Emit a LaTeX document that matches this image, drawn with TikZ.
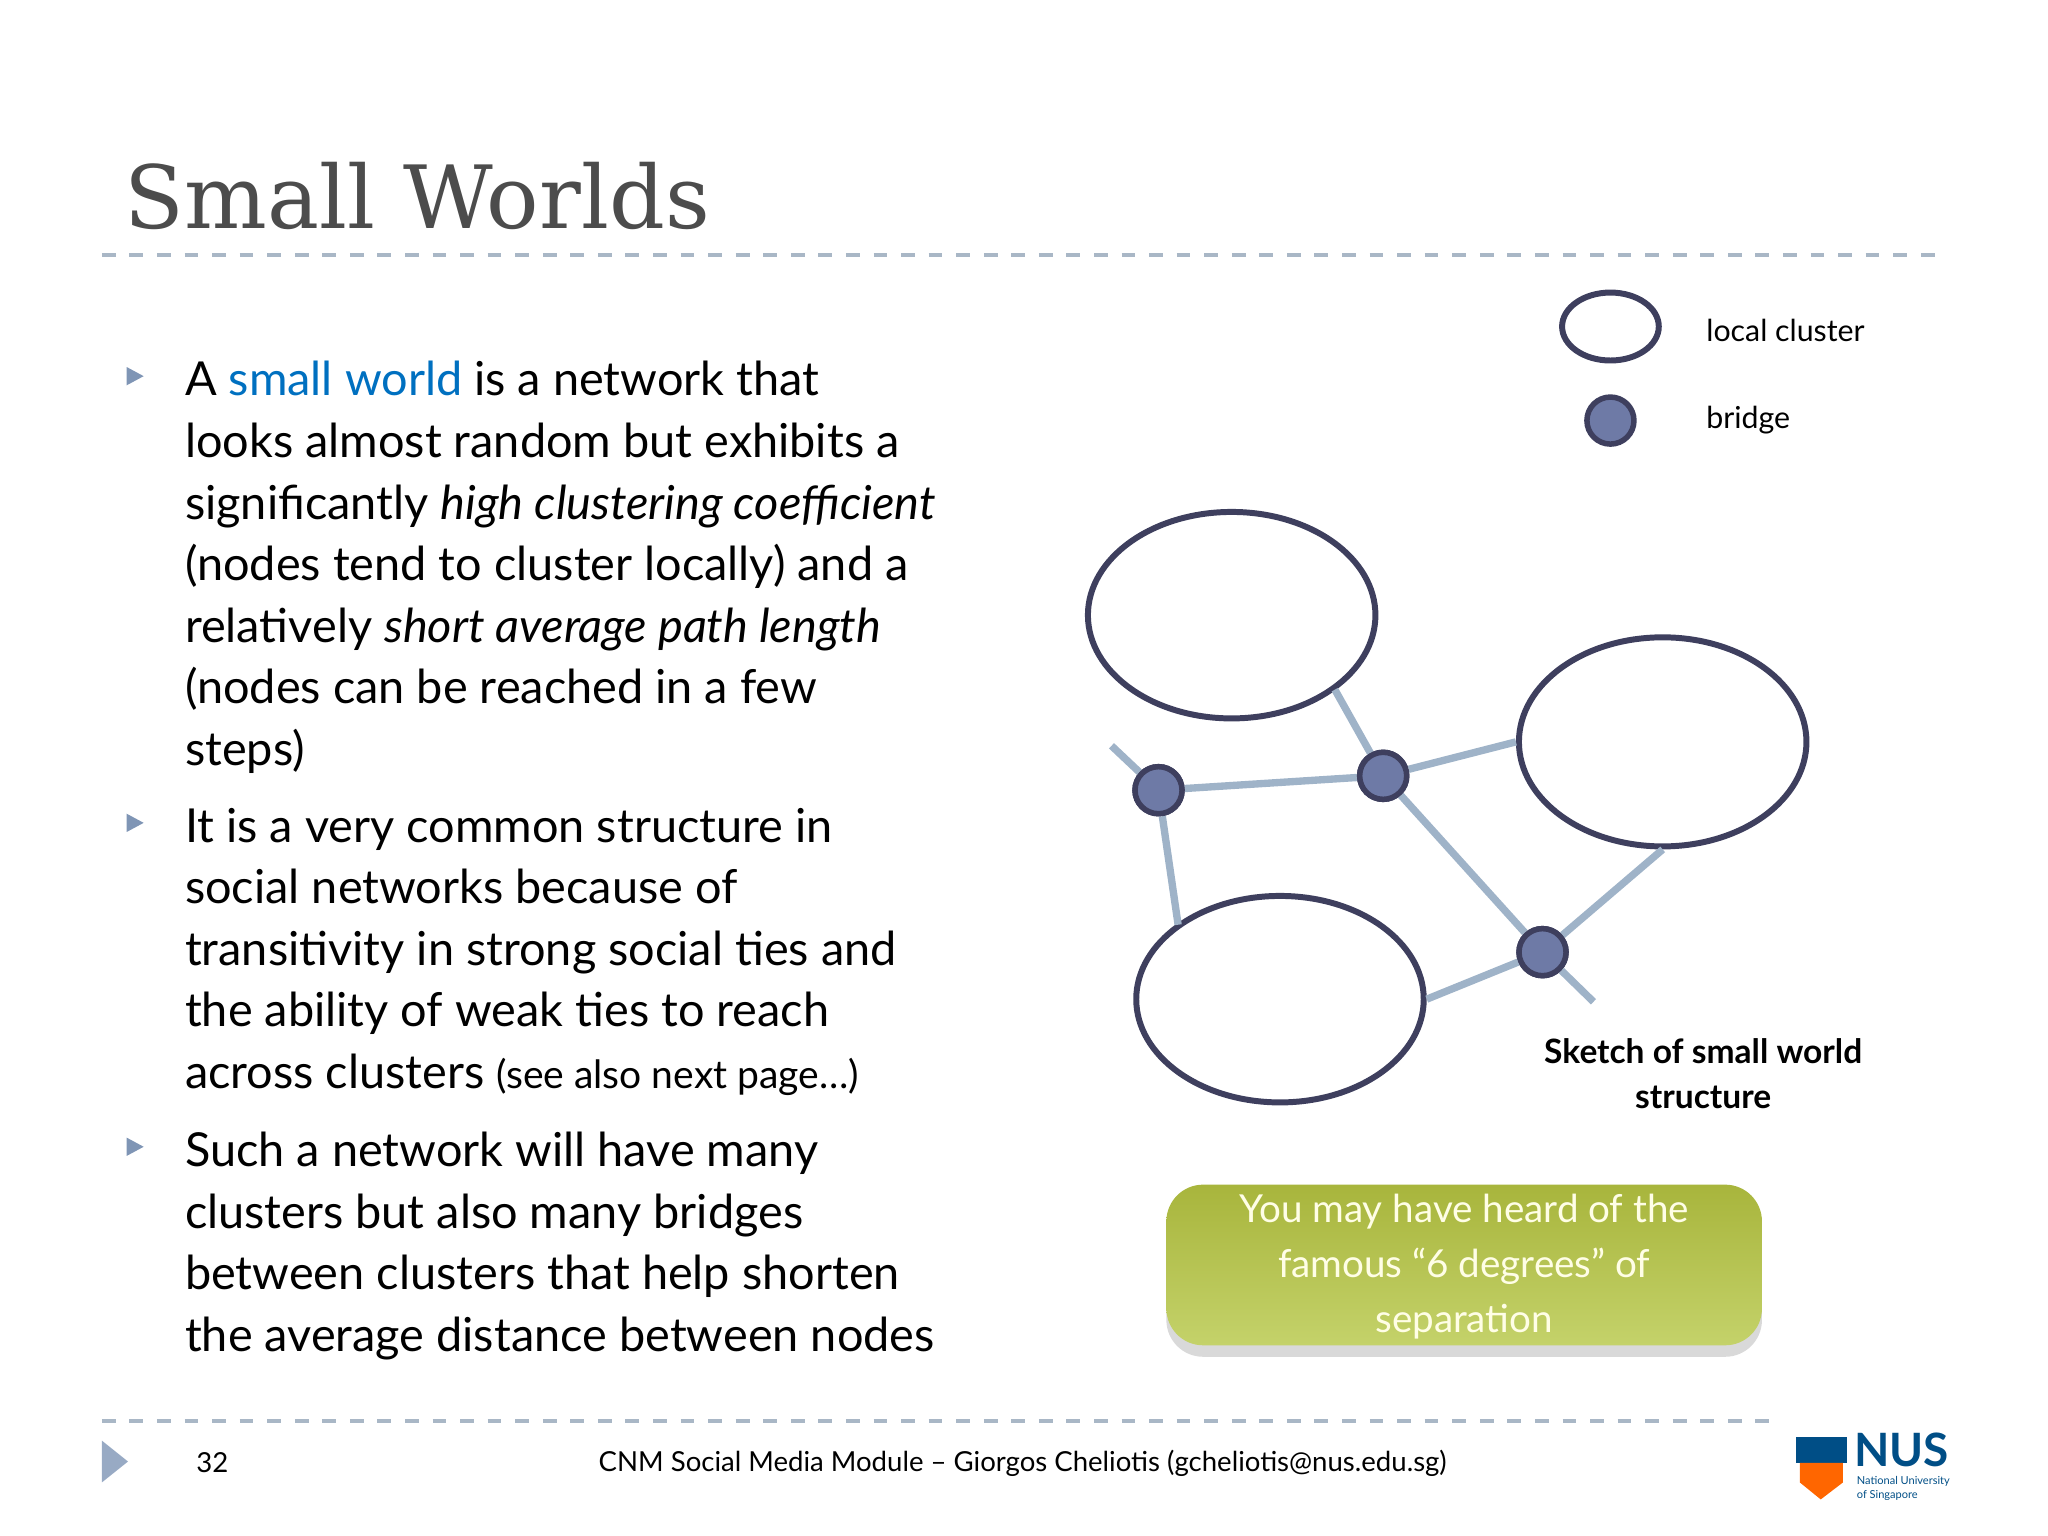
\documentclass[tikz,border=0pt]{standalone}
\usepackage{fontspec}
\setmainfont{Lato}
\newfontfamily\titlefont{DejaVu Serif}
\usetikzlibrary{shadows,shapes.geometric}
\definecolor{nodefill}{HTML}{6E7AA6}
\definecolor{edgec}{HTML}{9FB3C8}
\definecolor{ringc}{HTML}{3E3F5E}
\definecolor{dashc}{HTML}{A9B7C6}
\definecolor{linkblue}{HTML}{0070C0}
\definecolor{bulc}{HTML}{7F95B5}
\definecolor{gtop}{HTML}{A8B53C}
\definecolor{gbot}{HTML}{C4D26A}
\tikzset{
 cluster/.style={draw=ringc,line width=1.3pt,fill=white,ellipse},
 bridge/.style={circle,draw=ringc,line width=1.2pt,fill=nodefill,minimum size=0.36cm,inner sep=0pt},
 tie/.style={draw=edgec,line width=1.6pt},
 body/.style={anchor=north west,align=left,font=\fontsize{10.2}{13.4}\selectfont,inner sep=0pt},
 bul/.style={fill=bulc,draw=none},
}
\begin{document}
\begin{tikzpicture}[x=0.01cm,y=-0.01cm]
\useasboundingbox (0,0) rectangle (1568,1176);
\node[anchor=base west,inner sep=0pt,text=black!70,font=\titlefont\fontsize{19}{22}\selectfont] (title) at (95,175) {Small Worlds};
\draw[dashc,dashed,line width=0.8pt] (78,195) -- (1490,195);
\draw[dashc,dashed,line width=0.8pt] (78,1088) -- (1357,1088);
\foreach \y in {288,630,878} \fill[bul] (97,\y-7) -- (110,\y) -- (97,\y+7) -- cycle;
\node[body] (t1) at (141,276) {A \textcolor{linkblue}{small world} is a network that\\looks almost random but exhibits a\\significantly \textit{high clustering coefficient}\\(nodes tend to cluster locally) and a\\relatively \textit{short average path length}\\(nodes can be reached in a few\\steps)};
\node[body] (t2) at (141,618) {It is a very common structure in\\social networks because of\\transitivity in strong social ties and\\the ability of weak ties to reach\\across clusters {\fontsize{8.5}{13}\selectfont (see also next page\dots)}};
\node[body] (t3) at (141,866) {Such a network will have many\\clusters but also many bridges\\between clusters that help shorten\\the average distance between nodes};
\node[cluster,minimum width=0.74cm,minimum height=0.52cm] (lc) at (1233,250) {};
\node[anchor=west,font=\fontsize{6.6}{8}\selectfont] (lct) at (1294,253) {local cluster};
\node[bridge] (lb) at (1233,322) {};
\node[anchor=west,font=\fontsize{6.6}{8}\selectfont] (lbt) at (1294,322) {bridge};
\node[cluster,minimum width=2.2cm,minimum height=1.58cm] (A) at (943,471) {};
\node[cluster,minimum width=2.2cm,minimum height=1.6cm] (B) at (1273,568) {};
\node[cluster,minimum width=2.2cm,minimum height=1.58cm] (C) at (980,765) {};
\coordinate (s1) at (851,571);
\coordinate (s2) at (1220,767);
\coordinate (a1) at (1022,528);
\coordinate (c1) at (902,708);
\node[bridge] (b1) at (887,605) {};
\node[bridge] (b2) at (1059,594) {};
\node[bridge] (b3) at (1181,729) {};
\draw[tie] (b1) -- (b2);
\draw[tie] (b2) -- (a1);
\draw[tie] (b2) -- (B.west);
\draw[tie] (b2) -- (b3);
\draw[tie] (b3) -- (B.south);
\draw[tie] (b3) -- (C.east);
\draw[tie] (b1) -- (c1);
\draw[tie] (s1) -- (b1);
\draw[tie] (b3) -- (s2);
\node[bridge] at (b1) {};
\node[bridge] at (b2) {};
\node[bridge] at (b3) {};
\node[align=center,font=\bfseries\fontsize{7.3}{9.6}\selectfont] (cap) at (1304,822) {Sketch of small world\\structure};
\shade[top color=gtop,bottom color=gbot,rounded corners=8pt,drop shadow={opacity=0.3,shadow xshift=0pt,shadow yshift=-2.5pt}] (893,907) rectangle (1349,1030);
\node[align=center,text=white!90!yellow,font=\fontsize{8.4}{12}\selectfont] (gt) at (1121,970) {You may have heard of the\\famous “6 degrees” of\\separation};
\fill[bulc!80] (78,1103) -- (98,1119) -- (78,1135) -- cycle;
\node[anchor=west,font=\fontsize{6}{8}\selectfont] (pg) at (138,1120) {32};
\node[font=\fontsize{6}{8}\selectfont] (ft) at (783,1120) {CNM Social Media Module – Giorgos Cheliotis (gcheliotis@nus.edu.sg)};
\fill[linkblue!70!black] (1375,1100) rectangle (1414,1120);
\fill[orange!80!red] (1378,1120) -- (1411,1120) -- (1411,1135) -- (1394,1148) -- (1378,1135) -- cycle;
\node[anchor=west,text=linkblue!70!black,font=\bfseries\fontsize{10}{11}\selectfont,inner sep=0pt] (nus) at (1419,1110) {NUS};
\node[anchor=north west,align=left,text=linkblue!70!black,font=\fontsize{2.4}{3}\selectfont,inner sep=0pt] (nus2) at (1421,1130) {National University\\of Singapore};
\end{tikzpicture}
\end{document}
